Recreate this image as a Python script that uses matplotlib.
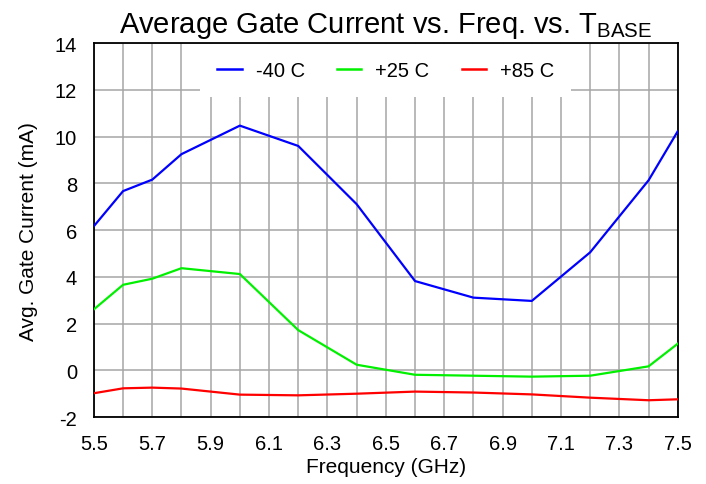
import numpy as np
import matplotlib
matplotlib.use("Agg")
from matplotlib import pyplot as plt
from matplotlib.ticker import FixedLocator, MultipleLocator

plt.rcParams["font.family"] = ["Liberation Sans", "DejaVu Sans"]
plt.rcParams["axes.unicode_minus"] = False

freq = [5.5, 5.6, 5.7, 5.8, 6.0, 6.2, 6.4, 6.6, 6.8, 7.0, 7.2, 7.4, 7.5]
cur_m40 = [6.17, 7.67, 8.16, 9.25, 10.47, 9.6, 7.11, 3.82, 3.11, 2.97, 5.05, 8.13, 10.23]
cur_p25 = [2.61, 3.66, 3.92, 4.37, 4.12, 1.72, 0.24, -0.19, -0.23, -0.27, -0.23, 0.17, 1.14]
cur_p85 = [-0.98, -0.77, -0.74, -0.78, -1.04, -1.07, -1.0, -0.91, -0.95, -1.03, -1.17, -1.28, -1.24]

x_ticks = [5.5, 5.7, 5.9, 6.1, 6.3, 6.5, 6.7, 6.9, 7.1, 7.3, 7.5]
y_ticks = [-2, 0, 2, 4, 6, 8, 10, 12, 14]

series = [
    ("-40 C", cur_m40, "#0000ff"),
    ("+25 C", cur_p25, "#00f000"),
    ("+85 C", cur_p85, "#ff0000"),
]

fig, ax = plt.subplots(figsize=(7.06, 4.85), dpi=100)
fig.subplots_adjust(left=0.133, right=0.960, bottom=0.138, top=0.909)

for label, vals, color in series:
    ax.plot(freq, vals, color=color, linewidth=1.6, label=label, zorder=3)

ax.set_xlim(5.5, 7.5)
ax.set_ylim(-2, 14)
ax.xaxis.set_major_locator(FixedLocator(x_ticks))
ax.xaxis.set_minor_locator(MultipleLocator(0.1))
ax.yaxis.set_major_locator(FixedLocator(y_ticks))
ax.xaxis.set_major_formatter(plt.FuncFormatter(lambda x, _: f"{x:.1f}"))

# vertical grid every 0.1 GHz, horizontal every 2 mA
ax.grid(True, which="both", axis="x", color="#a6a6a6", linewidth=1.1)
ax.grid(True, which="major", axis="y", color="#a6a6a6", linewidth=1.1)
ax.set_axisbelow(True)

ax.tick_params(axis="both", which="both", length=0, labelsize=14.5)
ax.tick_params(axis="x", pad=12)
ax.tick_params(axis="y", pad=12)
for s in ax.spines.values():
    s.set_linewidth(1.3)
    s.set_color("black")

ax.set_xlabel("Frequency (GHz)", fontsize=15, labelpad=3)
ax.set_ylabel("Avg. Gate Current (mA)", fontsize=15, labelpad=12)
ax.set_title("Average Gate Current vs. Freq. vs. T$_{\\mathregular{BASE}}$", fontsize=21, pad=8)

leg = ax.legend(loc="upper center", ncol=3, fontsize=14.5, frameon=True,
                fancybox=False, framealpha=1, facecolor="white", edgecolor="none",
                handlelength=1.2, handletextpad=0.7, columnspacing=1.6,
                borderpad=0.85, borderaxespad=0.05)
for h in leg.get_lines():
    h.set_linewidth(1.8)
leg.set_zorder(2.5)

fig.savefig("out.png")
